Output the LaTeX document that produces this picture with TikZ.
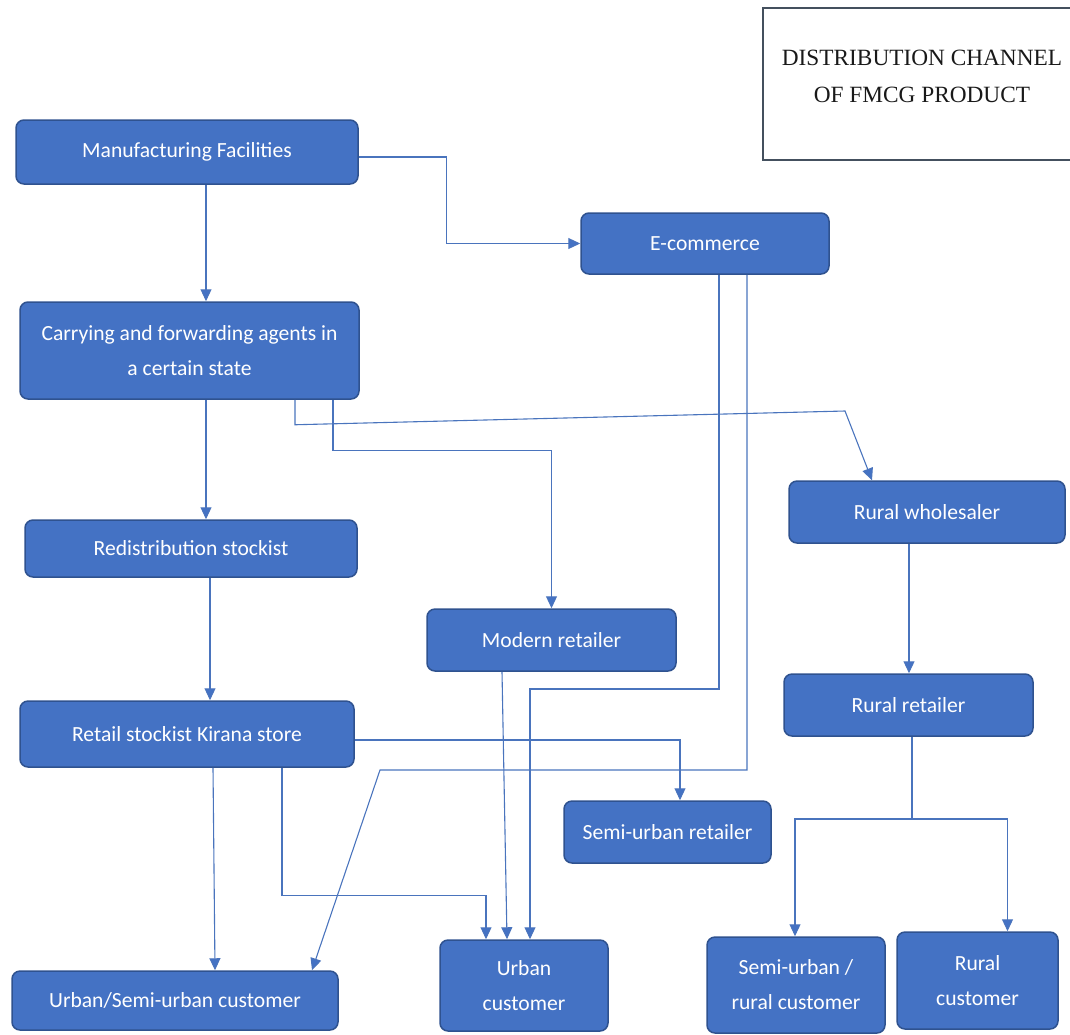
\documentclass[tikz,border=0pt]{standalone}
\usepackage{fontspec}
\setmainfont{Carlito}
\newfontfamily\titlefont{Liberation Serif}
\usetikzlibrary{arrows.meta}

\definecolor{boxfill}{HTML}{4472C4}
\definecolor{boxedge}{HTML}{2F528F}
\definecolor{linkcol}{HTML}{4A74BD}
\definecolor{titleedge}{HTML}{44505E}

\tikzset{
  stage/.style={rectangle, rounded corners=8pt, draw=boxedge, line width=1.5pt,
    fill=boxfill, text=white, align=center, inner sep=0pt,
    font=\fontsize{21.6}{35}\selectfont},
  link/.style={draw=linkcol, line width=1.1pt},
  conn/.style={link, -{Triangle[length=12pt,width=11pt,fill=boxfill]}},
}

\begin{document}
\begin{tikzpicture}[x=1pt,y=-1pt]
\useasboundingbox (0,0) rectangle (1070,1034);

% title panel
\draw[titleedge, line width=2.5pt] (1080,8) -- (763,8) -- (763,160) -- (1080,160);
\node[font=\titlefont\fontsize{23.3}{37}\selectfont, align=center, text=black!90]
  (title) at (922,76.5) {DISTRIBUTION CHANNEL\\OF FMCG PRODUCT};

% stages
\node[stage, minimum width=342pt, minimum height=64pt] (mf) at (187,152) {Manufacturing Facilities};
\node[stage, minimum width=339pt, minimum height=97pt] (cf) at (189.5,350.5) {Carrying and forwarding agents in\\a certain state};
\node[stage, minimum width=248pt, minimum height=61pt] (ec) at (705,243.5) {E-commerce};
\node[stage, minimum width=332pt, minimum height=57pt] (rs) at (191,548.5) {Redistribution stockist};
\node[stage, minimum width=249pt, minimum height=62pt] (mr) at (551.5,640) {Modern retailer};
\node[stage, minimum width=276pt, minimum height=62pt] (rw) at (927,512) {Rural wholesaler};
\node[stage, minimum width=249pt, minimum height=62pt] (rr) at (908.5,705) {Rural retailer};
\node[stage, minimum width=334pt, minimum height=66pt] (ks) at (187,734) {Retail stockist Kirana store};
\node[stage, minimum width=207pt, minimum height=62pt] (sr) at (667.5,832) {Semi-urban retailer};
\node[stage, minimum width=326pt, minimum height=59pt] (usc) at (175,1000.5) {Urban/Semi-urban customer};
\node[stage, minimum width=168pt, minimum height=91pt] (uc) at (524,985.5) {Urban\\customer};
\node[stage, minimum width=178pt, minimum height=96pt] (src) at (796,985) {Semi-urban /\\rural customer};
\node[stage, minimum width=161pt, minimum height=97pt] (rc) at (977.5,980.5) {Rural\\customer};

% bends of the longer connectors
\coordinate (rwbend) at (845,411);
\coordinate (ecturn) at (530,689);
\coordinate (ecslant) at (380,770);
\coordinate (split) at (912,819);

% manufacturing outflows
\draw[conn] ([yshift=-5pt]mf.east) -- ++(88,0) |- (ec.west);
\draw[conn] ([xshift=19pt]mf.south) -- ([xshift=19pt]mf.south |- cf.north);

% carrying and forwarding agents outflows
\draw[conn] ([xshift=16.5pt]cf.south) -- ([xshift=16.5pt]cf.south |- rs.north);
\draw[conn] ([xshift=143.5pt]cf.south) -- ++(0,51) -| (mr.north);
\draw[conn] ([xshift=105.5pt]cf.south) -- ++(0,25) -- (rwbend) -- ([xshift=-55pt]rw.north);

% e-commerce outflows
\draw[conn] ([xshift=14pt]ec.south) |- (ecturn) -- ([xshift=6pt]uc.north);
\draw[conn] ([xshift=42pt]ec.south) |- (ecslant) -- ([xshift=137pt]usc.north);

% urban chain
\draw[conn] ([xshift=19pt]rs.south) -- ([xshift=19pt]rs.south |- ks.north);
\draw[conn] ([xshift=-49.5pt]mr.south) -- ([xshift=-17pt]uc.north);
\draw[conn] ([xshift=26pt]ks.south) -- ([xshift=40pt]usc.north);
\draw[conn] ([xshift=95pt]ks.south) -- ++(0,128) -| ([xshift=-38pt]uc.north);
\draw[conn] ([yshift=-6pt]ks.east) -| ([xshift=12.5pt]sr.north);

% rural chain
\draw[conn] ([xshift=-18pt]rw.south) -- ([xshift=-18pt]rw.south |- rr.north);
\draw[link] ([xshift=3.5pt]rr.south) -- (split);
\draw[conn] (split) -| ([xshift=-1pt]src.north);
\draw[conn] (split) -| ([xshift=30pt]rc.north);
\end{tikzpicture}
\end{document}
